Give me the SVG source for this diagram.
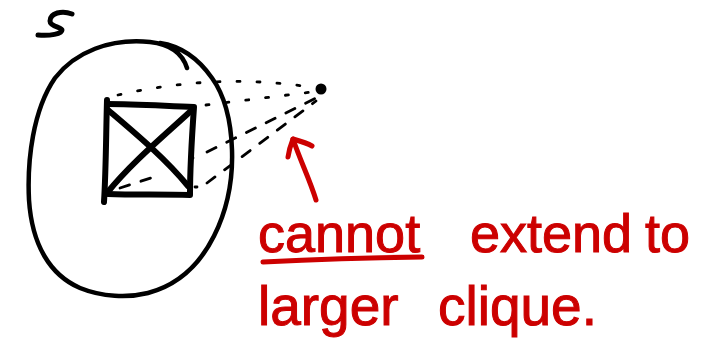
<svg xmlns="http://www.w3.org/2000/svg" width="712" height="352" viewBox="0 0 712 352">
<style>
.ink{fill:none;stroke:#000;stroke-linecap:round;stroke-linejoin:round}
.dot{fill:none;stroke:#000;stroke-width:2.8;stroke-linecap:round;stroke-dasharray:3 17}
.dash{fill:none;stroke:#000;stroke-width:2.8;stroke-linecap:round;stroke-dasharray:10 12}
.red{fill:none;stroke:#cc0000;stroke-width:5;stroke-linecap:round;stroke-linejoin:round}
.lbl{font-family:"Liberation Sans",Arial,sans-serif;fill:#cc0000;stroke:#cc0000;stroke-width:1}
</style>
<rect width="712" height="352" fill="#fff"/>
<g id="set-S">
<path class="ink" stroke-width="4.5" d="M187 68 C182 52 168 44 150 42 C110 38 75 52 55 78 C33 110 27 160 29 200 C32 245 50 275 80 288 C102 297 128 298 148 293 C178 285 200 264 214 236 C227 210 233 180 232 150 C231 120 225 96 212 78 C198 58 180 46 160 43"/>
<path class="ink" stroke-width="5" d="M72 14 C62 10 50 13 50 21 C50 27 62 27 62 30 C62 34 50 36 38 35"/>
</g>
<g id="clique">
<path class="ink" stroke-width="6" d="M107 104 C135 104 165 106 194 107 C192 135 190 165 190 195 C163 194 135 195 108 194"/>
<path class="ink" stroke-width="6" d="M107 100 C106 135 106 170 104 202"/>
<path class="ink" stroke-width="6" d="M108 110 C135 133 165 158 188 186"/>
<path class="ink" stroke-width="6" d="M193 109 C165 135 132 162 107 193"/>
</g>
<g id="vertex">
<circle cx="321" cy="89" r="5.5" fill="#000"/>
</g>
<g id="connectors">
<path class="dot" d="M118 95 Q220 72 316 88"/>
<path class="dot" d="M206 105 L312 92"/>
<path class="dash" d="M207 152 L316 98"/>
<path class="dash" d="M207 183 L316 101"/>
<path class="dash" d="M120 188 L160 175"/>
<path class="dot" d="M191 158 L193 158"/>
<path class="dot" d="M195 187 L197 187"/>
</g>
<g id="annotation">
<path class="red" d="M316 200 C310 180 300 160 293 139"/>
<path class="red" d="M288 157 C289 150 291 144 293 139 C300 141 307 143 312 146"/>
<text class="lbl" font-size="54" y="252"><tspan x="258">cannot</tspan><tspan x="470">extend</tspan><tspan x="645">to</tspan></text>
<path class="red" d="M263 262 Q340 258 422 257"/>
<text class="lbl" font-size="55" y="325"><tspan x="258">larger</tspan><tspan x="438">clique.</tspan></text>
</g>
</svg>
